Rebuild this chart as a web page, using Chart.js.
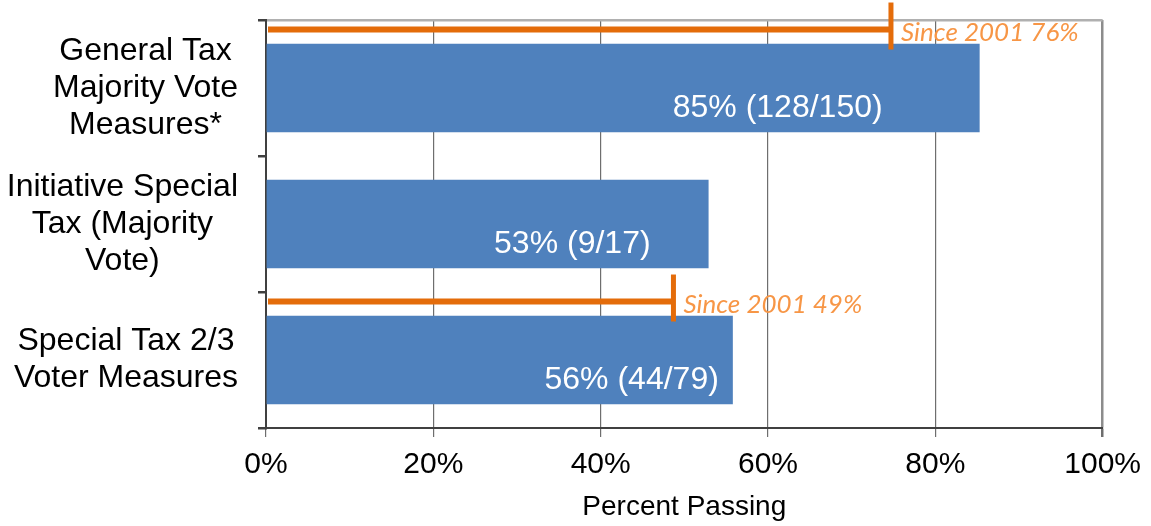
<!DOCTYPE html>
<html>
<head>
<meta charset="utf-8">
<title>Percent Passing</title>
<script src="https://cdn.jsdelivr.net/npm/chart.js@4.4.0/dist/chart.umd.min.js"></script>
<style>
    html, body { margin: 0; padding: 0; background: #fff; }
    #chartBox { width: 1151px; height: 526px; position: relative; }
</style>
</head>
<body>
<div id="chartBox"><canvas id="passChart"></canvas></div>
<script>
// chart data
const categoryLabels = [
    ['General Tax', 'Majority Vote', 'Measures*'],
    ['Initiative Special', 'Tax (Majority', 'Vote)'],
    ['Special Tax 2/3', 'Voter Measures']
];
const passRates = [85.3, 52.9, 55.8];
const passLabels = ['85% (128/150)', '53% (9/17)', '56% (44/79)'];
const since2001Rates = [74.7, null, 48.7];
const since2001Labels = ['Since 2001 76%', '', 'Since 2001 49%'];
const xTickValues = [0, 20, 40, 60, 80, 100];

const fontFamily = '"Liberation Sans", Arial, sans-serif';
const barColor = '#4F81BD';
const markerColor = '#E46C0A';
const markerTextColor = '#F79646';

// marker line sits in the gap above the bar (fraction of a category band)
const markerShift = -0.43;
// where the white labels end, px left of the bar end
const labelInset = [97, 58, 14];

let passChart = null;

// since 2001 markers: line from 0 to the rate with an upright cap
const markerPlugin = {
    id: 'since2001Markers',
    afterDatasetsDraw(chart) {
        const ctx = chart.ctx;
        const xScale = chart.scales.x;
        const yScale = chart.scales.y;
        const band = yScale.getPixelForValue(1) - yScale.getPixelForValue(0);
        ctx.save();
        ctx.strokeStyle = markerColor;
        ctx.lineCap = 'butt';
        since2001Rates.forEach((rate, i) => {
            if (rate === null) return;
            const y = yScale.getPixelForValue(i) + markerShift * band;
            const x0 = xScale.getPixelForValue(0);
            const x1 = xScale.getPixelForValue(rate);
            ctx.lineWidth = 6;
            ctx.beginPath();
            ctx.moveTo(x0 + 2, y);
            ctx.lineTo(x1, y);
            ctx.stroke();
            ctx.lineWidth = 5;
            ctx.beginPath();
            ctx.moveTo(x1, y - 27);
            ctx.lineTo(x1, y + 20);
            ctx.stroke();

            ctx.font = 'italic 26px Lato, "Open Sans", sans-serif';
            ctx.fillStyle = markerTextColor;
            ctx.textAlign = 'left';
            ctx.textBaseline = 'middle';
            ctx.fillText(since2001Labels[i], x1 + 10, y + 3);
        });
        ctx.restore();
    }
};

// draws category labels and the white bar labels
const textLabelsPlugin = {
    id: 'textLabels',
    afterDatasetsDraw(chart) {
        const ctx = chart.ctx;
        const yScale = chart.scales.y;
        ctx.save();

        // category labels, each line centred inside its block
        ctx.font = '32px ' + fontFamily;
        ctx.fillStyle = '#000';
        ctx.textAlign = 'center';
        ctx.textBaseline = 'middle';
        categoryLabels.forEach((lines, i) => {
            const blockW = Math.max(...lines.map(l => ctx.measureText(l).width));
            const cx = yScale.right - 28 - blockW / 2;
            const cy = yScale.getPixelForValue(i);
            const lineH = 37;
            lines.forEach((l, j) => {
                ctx.fillText(l, cx, cy + (j - (lines.length - 1) / 2) * lineH);
            });
        });

        // white labels inside bars
        const barMeta = chart.getDatasetMeta(0);
        ctx.fillStyle = '#fff';
        ctx.textAlign = 'right';
        barMeta.data.forEach((bar, i) => {
            ctx.fillText(passLabels[i], bar.x - labelInset[i], bar.y + 20);
        });

        ctx.restore();
    }
};

window.addEventListener('load', () => {

    const chartCtx = document.getElementById('passChart').getContext('2d');

    passChart = new Chart(chartCtx, {
        type: 'bar',
        data: {
            labels: categoryLabels,
            datasets: [{
                label: 'Percent Passing',
                data: passRates,
                backgroundColor: barColor,
                borderWidth: 0,
                categoryPercentage: 0.65,
                barPercentage: 1
            }]
        },
        options: {
            indexAxis: 'y',
            responsive: true,
            maintainAspectRatio: false,
            animation: false,
            layout: {
                padding: {top: 20, right: 46, bottom: 0, left: 0}
            },
            scales: {
                x: {
                    min: 0,
                    max: 100,
                    afterFit: scale => { scale.height = 98; },
                    afterBuildTicks: scale => {
                        scale.ticks = xTickValues.map(v => ({value: v}));
                    },
                    ticks: {
                        callback: v => v + '%',
                        color: '#000',
                        font: {size: 30, family: fontFamily},
                        padding: 10,
                        maxRotation: 0
                    },
                    grid: {
                        color: c => (c.tick && c.tick.value === 100) ? '#8c8c8c' : '#6e6e6e',
                        lineWidth: c => (c.tick && c.tick.value === 100) ? 2.5 : 1.2,
                        tickLength: 9,
                        tickColor: '#6e6e6e'
                    },
                    border: {color: '#404040', width: 2},
                    title: {
                        display: true,
                        text: 'Percent Passing',
                        color: '#000',
                        font: {size: 28, family: fontFamily},
                        padding: {top: 0, bottom: 2}
                    }
                },
                y: {
                    afterFit: scale => { scale.width = 266; },
                    // labels are drawn by textLabelsPlugin
                    ticks: {callback: () => ''},
                    grid: {
                        offset: true,
                        color: c => c.index === 0 ? '#b0b0b0' : 'transparent',
                        lineWidth: 2.5,
                        tickLength: 8,
                        tickColor: '#404040'
                    },
                    border: {color: '#404040', width: 2}
                }
            },
            plugins: {
                legend: {display: false},
                tooltip: {enabled: false}
            }
        },
        plugins: [textLabelsPlugin, markerPlugin]
    });
});
</script>
</body>
</html>
